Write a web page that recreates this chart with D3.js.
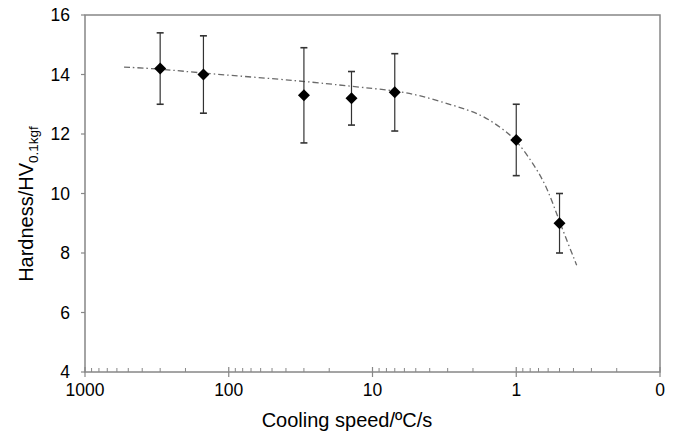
<!DOCTYPE html>
<html>
<head>
    <style>
        body { margin: 0; background: #fff; }
        text { font-family: Arial, "Liberation Sans", sans-serif; fill: #000; }
    </style>
    <script src="https://d3js.org/d3.v7.min.js"></script>
</head>
<body>
    <div id="chart"></div>
    <script>
        // measured points (cooling speed in degC/s, hardness HV0.1kgf)
        const speeds = [300, 150, 30, 14, 7, 1, 0.5];
        const hardness = [14.2, 14.0, 13.3, 13.2, 13.4, 11.8, 9.0];
        const errLow = [13.0, 12.7, 11.7, 12.3, 12.1, 10.6, 8.0];
        const errHigh = [15.4, 15.3, 14.9, 14.1, 14.7, 13.0, 10.0];

        // trend line
        const trendX = [535, 300, 150, 30, 14, 7, 4.67, 2.74, 1.78, 1.29, 1.0, 0.76, 0.61, 0.5, 0.38];
        const trendY = [14.25, 14.19, 14.04, 13.78, 13.6, 13.46, 13.3, 12.96, 12.68, 12.23, 11.81, 11.0, 10.22, 9.04, 7.59];

        const xTickVals = [1000, 100, 10, 1, 0.1];
        const xTickLabels = ["1000", "100", "10", "1", "0"];
        const yTicks = [4, 6, 8, 10, 12, 14, 16];

        const width = 673, height = 433;
        const margin = {top: 15, right: 13, bottom: 61, left: 85};
        const axisColor = "#878787";

        const svg = d3.select("#chart").append("svg")
            .attr("width", width)
            .attr("height", height);

        const x = d3.scaleLog()
            .domain([1000, 0.1])
            .range([margin.left, width - margin.right]);
        const y = d3.scaleLinear()
            .domain([4, 16])
            .range([height - margin.bottom, margin.top]);

        const x0 = margin.left, x1 = width - margin.right;
        const y0 = height - margin.bottom, y1 = margin.top;

        // frame
        svg.append("rect")
            .attr("x", x0).attr("y", y1)
            .attr("width", x1 - x0).attr("height", y0 - y1)
            .attr("fill", "none")
            .attr("stroke", axisColor)
            .attr("stroke-width", 1.5);

        // y ticks
        svg.selectAll(".ytick")
            .data(yTicks)
            .enter().append("line")
            .attr("x1", x0 - 4).attr("x2", x0)
            .attr("y1", d => y(d)).attr("y2", d => y(d))
            .attr("stroke", axisColor).attr("stroke-width", 1.2);

        svg.selectAll(".ylab")
            .data(yTicks)
            .enter().append("text")
            .attr("x", x0 - 15)
            .attr("y", d => y(d))
            .attr("dy", "0.36em")
            .attr("text-anchor", "end")
            .style("font-size", "17.5px")
            .text(d => d);

        // x minor ticks (2..9 of each decade)
        const minor = [];
        [0.1, 1, 10, 100].forEach(dec => {
            for (let k = 2; k <= 9; k++) minor.push(dec * k);
        });
        svg.selectAll(".xminor")
            .data(minor)
            .enter().append("line")
            .attr("x1", d => x(d)).attr("x2", d => x(d))
            .attr("y1", y0 - 4).attr("y2", y0)
            .attr("stroke", axisColor).attr("stroke-width", 1);

        svg.selectAll(".xmajor")
            .data(xTickVals)
            .enter().append("line")
            .attr("x1", d => x(d)).attr("x2", d => x(d))
            .attr("y1", y0 - 5).attr("y2", y0 + 5)
            .attr("stroke", axisColor).attr("stroke-width", 1.2);

        svg.selectAll(".xlab")
            .data(xTickVals)
            .enter().append("text")
            .attr("x", d => x(d))
            .attr("y", y0 + 24)
            .attr("text-anchor", "middle")
            .style("font-size", "17.5px")
            .text((d, i) => xTickLabels[i]);

        // axis titles
        svg.append("text")
            .attr("x", 347)
            .attr("y", 427)
            .attr("text-anchor", "middle")
            .style("font-size", "20px")
            .text("Cooling speed/ºC/s");

        const yt = svg.append("text")
            .attr("transform", "translate(33,204) rotate(-90)")
            .attr("text-anchor", "middle")
            .style("font-size", "20px");
        yt.append("tspan").text("Hardness/HV");
        yt.append("tspan").attr("dy", 5).style("font-size", "13.5px").text("0.1kgf");

        // trend line
        const trend = trendX.map((v, i) => [v, trendY[i]]);
        svg.append("path")
            .datum(trend)
            .attr("fill", "none")
            .attr("stroke", "#6a6a6a")
            .attr("stroke-width", 1.3)
            .attr("stroke-dasharray", "6,3,1.5,3")
            .attr("d", d3.line()
                .x(d => x(d[0]))
                .y(d => y(d[1]))
                .curve(d3.curveBasis));

        // error bars
        const pts = speeds.map((s, i) => ({s, h: hardness[i], lo: errLow[i], hi: errHigh[i]}));
        const eb = svg.selectAll(".err")
            .data(pts)
            .enter().append("g")
            .attr("stroke", "#333")
            .attr("stroke-width", 1.2);
        eb.append("line")
            .attr("x1", d => x(d.s)).attr("x2", d => x(d.s))
            .attr("y1", d => y(d.lo)).attr("y2", d => y(d.hi));
        eb.append("line")
            .attr("x1", d => x(d.s) - 3.5).attr("x2", d => x(d.s) + 3.5)
            .attr("y1", d => y(d.lo)).attr("y2", d => y(d.lo))
            .attr("stroke-width", 1.6);
        eb.append("line")
            .attr("x1", d => x(d.s) - 3.5).attr("x2", d => x(d.s) + 3.5)
            .attr("y1", d => y(d.hi)).attr("y2", d => y(d.hi))
            .attr("stroke-width", 1.6);

        // diamonds
        const r = 6;
        svg.selectAll(".pt")
            .data(pts)
            .enter().append("path")
            .attr("transform", d => `translate(${x(d.s)},${y(d.h)})`)
            .attr("d", `M0,${-r}L${r},0L0,${r}L${-r},0Z`)
            .attr("fill", "#000");
    </script>
</body>
</html>
